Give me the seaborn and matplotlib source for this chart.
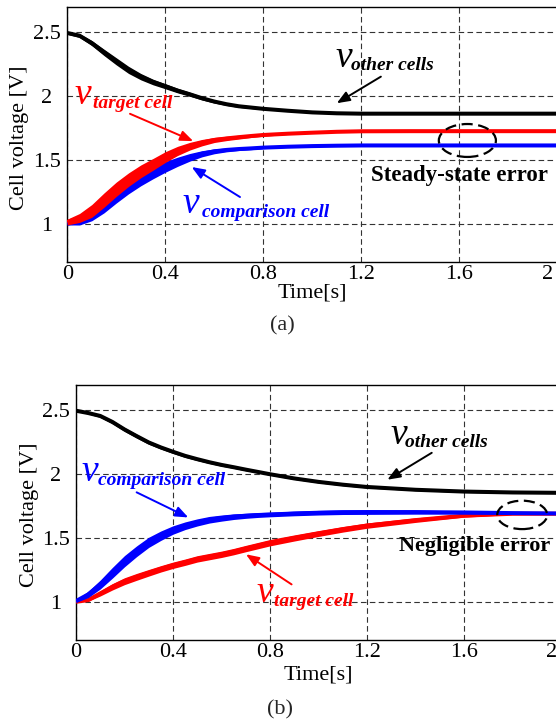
import matplotlib
matplotlib.use("Agg")
import matplotlib.pyplot as plt
import matplotlib.transforms as mtransforms
from matplotlib.patches import Ellipse
import seaborn as sns

# sample instants [s]
t = [0, 0.05, 0.1, 0.15, 0.2, 0.25, 0.3, 0.35, 0.4, 0.45, 0.5, 0.55, 0.6,
     0.65, 0.7, 0.75, 0.8, 0.9, 1.0, 1.1, 1.2, 1.4, 1.6, 1.8, 2.0]

# (a) conventional balancing: cell voltages [V]
a_other = [2.494, 2.473, 2.415, 2.342, 2.272, 2.205, 2.152, 2.11, 2.077, 2.043, 2.014, 1.983,
           1.957, 1.936, 1.92, 1.91, 1.90, 1.885, 1.872, 1.865, 1.862, 1.862, 1.862, 1.862, 1.862]
a_target = [1.013, 1.045, 1.10, 1.185, 1.27, 1.345, 1.41, 1.465, 1.522, 1.57, 1.607, 1.635,
            1.656, 1.668, 1.678, 1.687, 1.695, 1.705, 1.713, 1.72, 1.724, 1.725, 1.725, 1.725, 1.725]
a_comp = [1.0, 1.02, 1.068, 1.14, 1.22, 1.29, 1.35, 1.40, 1.445, 1.485, 1.52, 1.548,
          1.567, 1.578, 1.585, 1.59, 1.596, 1.603, 1.608, 1.611, 1.613, 1.613, 1.613, 1.613, 1.613]
# switching-ripple half-width of each trace [V]
a_other_rip = [0.01, 0.015, 0.02, 0.025, 0.028, 0.028, 0.025, 0.022, 0.02, 0.018, 0.016, 0.014,
               0.012, 0.01, 0.009, 0.008, 0.007, 0.005, 0.003, 0, 0, 0, 0, 0, 0]
a_target_rip = [0.023, 0.035, 0.05, 0.056, 0.056, 0.053, 0.05, 0.046, 0.042, 0.036, 0.03, 0.025,
                0.02, 0.017, 0.015, 0.012, 0.01, 0.006, 0.003, 0, 0, 0, 0, 0, 0]
a_comp_rip = [0.01, 0.03, 0.045, 0.055, 0.058, 0.056, 0.053, 0.048, 0.042, 0.036, 0.03, 0.024,
              0.019, 0.015, 0.012, 0.01, 0.008, 0.005, 0.003, 0, 0, 0, 0, 0, 0]

# (b) proposed balancing: cell voltages [V]
b_other = [2.498, 2.48, 2.457, 2.41, 2.351, 2.299, 2.249, 2.21, 2.176, 2.144, 2.118, 2.094,
           2.073, 2.055, 2.036, 2.018, 2.0, 1.967, 1.94, 1.918, 1.90, 1.878, 1.864, 1.857, 1.854]
b_comp = [1.005, 1.057, 1.135, 1.227, 1.318, 1.396, 1.466, 1.518, 1.5625, 1.596, 1.622, 1.643,
          1.656, 1.667, 1.674, 1.68, 1.684, 1.692, 1.698, 1.702, 1.703, 1.703, 1.70, 1.695, 1.692]
b_target = [1.0, 1.013, 1.065, 1.117, 1.161, 1.195, 1.227, 1.258, 1.286, 1.31, 1.336, 1.354,
            1.372, 1.393, 1.417, 1.44, 1.463, 1.5, 1.535, 1.568, 1.597, 1.64, 1.675, 1.69, 1.69]
b_other_rip = [0.005, 0.008, 0.012, 0.014, 0.015, 0.015, 0.014, 0.013, 0.013, 0.012, 0.011, 0.01,
               0.01, 0.009, 0.009, 0.008, 0.008, 0.008, 0.008, 0.008, 0.008, 0.007, 0.007, 0.006, 0.006]
b_comp_rip = [0.01, 0.025, 0.035, 0.042, 0.044, 0.042, 0.04, 0.037, 0.033, 0.03, 0.028, 0.026,
              0.024, 0.022, 0.02, 0.019, 0.018, 0.018, 0.018, 0.018, 0.018, 0.016, 0.012, 0.008, 0.004]
b_target_rip = [0.004, 0.01, 0.02, 0.025, 0.027, 0.027, 0.026, 0.025, 0.025, 0.025, 0.025, 0.025,
                0.025, 0.025, 0.025, 0.025, 0.025, 0.024, 0.023, 0.022, 0.021, 0.018, 0.012, 0.006, 0.004]

x_ticks = [0, 0.4, 0.8, 1.2, 1.6, 2.0]
x_tick_labels = ["0", "0.4", "0.8", "1.2", "1.6", "2"]
y_ticks = [1, 1.5, 2, 2.5]
y_tick_labels = ["1", "1.5", "2", "2.5"]

sns.set_theme(style="white")
plt.rcParams["font.family"] = ["Liberation Serif", "DejaVu Serif"]

fig = plt.figure(figsize=(5.56, 7.28), dpi=100)
ax_a = fig.add_axes([0.121, 0.6401, 0.8813, 0.3507])
ax_b = fig.add_axes([0.1367, 0.1209, 0.8723, 0.3503])

RED = "#ff0000"
BLUE = "#0000ff"
BLACK = "#000000"


def trace(ax, y, rip, color, z):
    lo = [v - r for v, r in zip(y, rip)]
    hi = [v + r for v, r in zip(y, rip)]
    ax.fill_between(t, lo, hi, color=color, lw=0, zorder=z)
    sns.lineplot(x=t, y=y, color=color, lw=2.9, ax=ax, zorder=z,
                 solid_capstyle="butt", solid_joinstyle="round")


def frame(ax, xlab_y, ylab_x, ylab_y):
    ax.set_xlim(0, 2)
    ax.set_ylim(0.7, 2.7)
    ax.set_xticks(x_ticks)
    ax.set_xticklabels(x_tick_labels)
    ax.set_yticks(y_ticks)
    ax.set_yticklabels(y_tick_labels)
    ax.set_axisbelow(True)
    ax.grid(True, color="0.2", ls=(0, (5, 3)), lw=0.8)
    ax.tick_params(axis="both", direction="in", length=4, width=0.8,
                   labelsize=16, colors="black")
    ax.tick_params(axis="x", pad=2)
    ax.tick_params(axis="y", pad=14.6)
    for lab in ax.get_yticklabels():
        lab.set_horizontalalignment("center")
    last = ax.get_xticklabels()[-1]
    last.set_horizontalalignment("right")
    last.set_transform(last.get_transform() +
                       mtransforms.ScaledTranslation(-0.04, 0, fig.dpi_scale_trans))
    for s in ax.spines.values():
        s.set_color("black")
        s.set_linewidth(1.0)
    ax.set_xlabel("Time[s]", fontsize=16, color="black")
    ax.xaxis.set_label_coords(0.5, xlab_y)
    ax.xaxis.label.set_verticalalignment("center")
    ax.set_ylabel("Cell voltage [V]", fontsize=16, color="black")
    ax.yaxis.set_label_coords(ylab_x, ylab_y)
    ax.yaxis.label.set_verticalalignment("center")


def label(ax, vx, vy, sx, sy, sub, color):
    ax.text(vx, vy, "v", color=color, fontsize=27, fontstyle="italic",
            ha="left", va="baseline", zorder=8)
    ax.text(sx, sy, sub, color=color, fontsize=14, fontstyle="italic",
            fontweight="bold", ha="left", va="baseline", zorder=8)


def arrow(ax, start, tip, color):
    ax.annotate("", xy=tip, xytext=start, zorder=8,
                arrowprops=dict(arrowstyle="-|>,head_length=0.55,head_width=0.22",
                                color=color, lw=1.4, mutation_scale=14,
                                shrinkA=0, shrinkB=0))


# ---- panel (a)
trace(ax_a, a_comp, a_comp_rip, BLUE, 3)
trace(ax_a, a_target, a_target_rip, RED, 4)
trace(ax_a, a_other, a_other_rip, BLACK, 5)
frame(ax_a, -0.1214, -0.0965, 0.488)

label(ax_a, 1.093, 2.225, 1.158, 2.205, "other cells", BLACK)
arrow(ax_a, (1.28, 2.152), (1.10, 1.944), BLACK)
label(ax_a, 0.031, 1.941, 0.106, 1.91, "target cell", RED)
arrow(ax_a, (0.256, 1.861), (0.514, 1.647), RED)
label(ax_a, 0.472, 1.084, 0.549, 1.053, "comparison cell", BLUE)
arrow(ax_a, (0.705, 1.209), (0.508, 1.444), BLUE)
ax_a.add_patch(Ellipse((1.633, 1.652), 0.233, 0.258, fill=False, ec="black",
                       lw=1.6, ls=(0, (5, 2.5)), zorder=9))
ax_a.text(1.599, 1.379, "Steady-state error", fontsize=16.5, fontweight="bold",
          color="black", ha="center", va="center", zorder=8)

# ---- panel (b)
trace(ax_b, b_target, b_target_rip, RED, 3)
trace(ax_b, b_comp, b_comp_rip, BLUE, 4)
trace(ax_b, b_other, b_other_rip, BLACK, 5)
frame(ax_b, -0.137, -0.0969, 0.49)

label(ax_b, 1.295, 2.239, 1.357, 2.213, "other cells", BLACK)
arrow(ax_b, (1.467, 2.168), (1.284, 1.957), BLACK)
label(ax_b, 0.0235, 1.95, 0.092, 1.916, "comparison cell", BLUE)
arrow(ax_b, (0.25, 1.858), (0.463, 1.661), BLUE)
label(ax_b, 0.745, 0.995, 0.816, 0.963, "target cell", RED)
arrow(ax_b, (0.889, 1.136), (0.701, 1.372), RED)
ax_b.add_patch(Ellipse((1.84, 1.681), 0.206, 0.223, fill=False, ec="black",
                       lw=1.6, ls=(0, (5, 2.5)), zorder=9))
ax_b.text(1.645, 1.438, "Negligible error", fontsize=16, fontweight="bold",
          color="black", ha="center", va="center", zorder=8)

fig.text(0.507, 1 - 326 / 728, "(a)", fontsize=16, ha="center", va="center")
fig.text(0.5036, 1 - 710 / 728, "(b)", fontsize=16, ha="center", va="center")

fig.savefig("out.png", dpi=100)
